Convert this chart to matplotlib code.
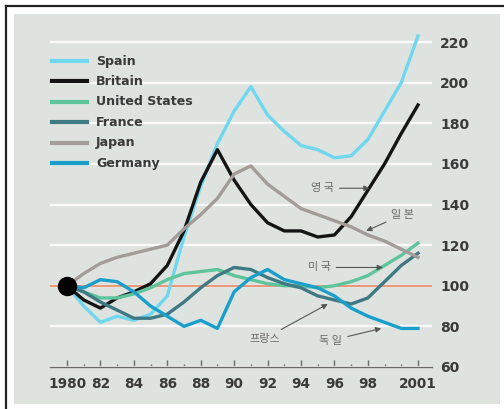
import matplotlib
matplotlib.use("Agg")
import matplotlib.pyplot as plt
from matplotlib.patches import Rectangle
from matplotlib.lines import Line2D

years = list(range(1980, 2002))
spain   = [100, 90, 82, 85, 83, 86, 95, 124, 149, 170, 186, 198, 184, 176, 169, 167, 163, 164, 172, 186, 200, 223]
britain = [100, 93, 89, 94, 97, 101, 110, 127, 151, 167, 152, 140, 131, 127, 127, 124, 125, 134, 147, 160, 175, 189]
usa     = [100, 97, 94, 94, 96, 99, 103, 106, 107, 108, 105, 103, 101, 100, 100, 99, 100, 102, 105, 110, 115, 121]
france  = [100, 97, 92, 88, 84, 84, 86, 92, 99, 105, 109, 108, 104, 101, 99, 95, 93, 91, 94, 102, 110, 116]
japan   = [100, 106, 111, 114, 116, 118, 120, 128, 135, 143, 155, 159, 150, 144, 138, 135, 132, 129, 125, 122, 118, 114]
germany = [100, 99, 103, 102, 97, 90, 85, 80, 83, 79, 97, 104, 108, 103, 101, 99, 95, 89, 85, 82, 79, 79]

series_names = ["Spain", "Britain", "United States", "France", "Japan", "Germany"]
series_vals = [spain, britain, usa, france, japan, germany]
colors = ["#6fd8ee", "#141414", "#5ec49c", "#3f7a84", "#a39c98", "#1a9fcb"]

yticks = [60, 80, 100, 120, 140, 160, 180, 200, 220]
xtick_pos = [1980, 1982, 1984, 1986, 1988, 1990, 1992, 1994, 1996, 1998, 2001]
xtick_lab = ["1980", "82", "84", "86", "88", "90", "92", "94", "96", "98", "2001"]
minor_pos = [1981, 1983, 1985, 1987, 1989, 1991, 1993, 1995, 1997, 1999, 2000]

annotations = [  # text, text position (year, value), arrow target (year, value)
    ("영 국", (1994.6, 148), (1998.1, 148)),
    ("일 본", (1999.4, 135), (1997.9, 127)),
    ("미 국", (1994.4, 109), (1998.9, 109)),
    ("프랑스", (1990.9, 74), (1995.6, 91)),
    ("독 일", (1995.1, 73), (1998.8, 79)),
]

W, H = 504, 409
fig = plt.figure(figsize=(W / 100, H / 100), dpi=100)
fig.patch.set_facecolor("white")

# panel background and frame
fig.patches.append(Rectangle((14 / W, (H - 404) / H), (500 - 14) / W, (404 - 14) / H,
                             transform=fig.transFigure, facecolor="#dfe3e0",
                             edgecolor="none", zorder=-5))
fig.lines.append(Line2D([6 / W, 1], [(H - 6) / H, (H - 6) / H], transform=fig.transFigure,
                        color="#222222", lw=1.6, zorder=-4))
fig.lines.append(Line2D([6 / W, 6 / W], [0, (H - 6) / H], transform=fig.transFigure,
                        color="#222222", lw=1.6, zorder=-4))

# axes: x 50..432 px, y 367 (value 60) .. 20 px
px_per_year = (418 - 67) / 21
px_per_unit = (367 - 42) / 160
ax_l, ax_r, ax_b, ax_t = 50, 432, 367, 20
ax = fig.add_axes([ax_l / W, (H - ax_b) / H, (ax_r - ax_l) / W, (ax_b - ax_t) / H])
ax.set_zorder(1)
ax.set_facecolor("none")
ax.set_xlim(1980 - (67 - ax_l) / px_per_year, 2001 + (ax_r - 418) / px_per_year)
ax.set_ylim(60, 220 + (42 - ax_t) / px_per_unit)

for s in ["top", "right", "left"]:
    ax.spines[s].set_visible(False)
ax.spines["bottom"].set_color("#6a6a6a")
ax.spines["bottom"].set_linewidth(1.0)

ax.yaxis.tick_right()
ax.set_yticks(yticks)
ax.set_yticklabels([str(v) for v in yticks])
ax.tick_params(axis="y", length=0, pad=6, labelsize=10, labelcolor="#3a3a3a")
for t in ax.get_yticklabels():
    t.set_fontweight("bold")

ax.set_xticks(xtick_pos)
ax.set_xticklabels(xtick_lab)
ax.set_xticks(minor_pos, minor=True)
ax.tick_params(axis="x", which="major", direction="in", length=5, width=1, color="#6a6a6a",
               pad=7, labelsize=9.8, labelcolor="#3a3a3a")
ax.tick_params(axis="x", which="minor", direction="in", length=2.5, width=1, color="#6a6a6a")
for t in ax.get_xticklabels():
    t.set_fontweight("bold")

ax.grid(axis="y", color="white", lw=1.6, alpha=0.85, zorder=1)
ax.grid(axis="x", visible=False)
ax.set_axisbelow(True)
ax.axhline(100, color="#ec8e6c", lw=1.3, zorder=2)

order = [4, 3, 2, 1, 5, 0]
for i in order:
    ax.plot(years, series_vals[i], color=colors[i], lw=2.4, zorder=3 + i,
            solid_joinstyle="round", clip_on=False)
ax.plot([years[0]], [100], "o", color="black", ms=13, zorder=20, clip_on=False)

# annotations
for txt, tpos, target in annotations:
    ax.annotate(txt, xy=target, xytext=tpos, textcoords="data",
                fontsize=8, color="#6a6a6a", family=["Noto Sans CJK KR", "DejaVu Sans"],
                ha="left", va="center", zorder=25,
                arrowprops=dict(arrowstyle="-|>", color="#555555", lw=0.8,
                                mutation_scale=8, shrinkA=2, shrinkB=0))

# legend
leg_y0 = 61
for k, (name, col) in enumerate(zip(series_names, colors)):
    yy = (H - (leg_y0 + k * 20.4)) / H
    fig.lines.append(Line2D([52 / W, 87 / W], [yy, yy], transform=fig.transFigure,
                            color=col, lw=3.0))
    fig.text(96 / W, yy, name, fontsize=9.1, fontweight="bold", color="#3a3a3a",
             ha="left", va="center")

fig.savefig("out.png", dpi=100)
